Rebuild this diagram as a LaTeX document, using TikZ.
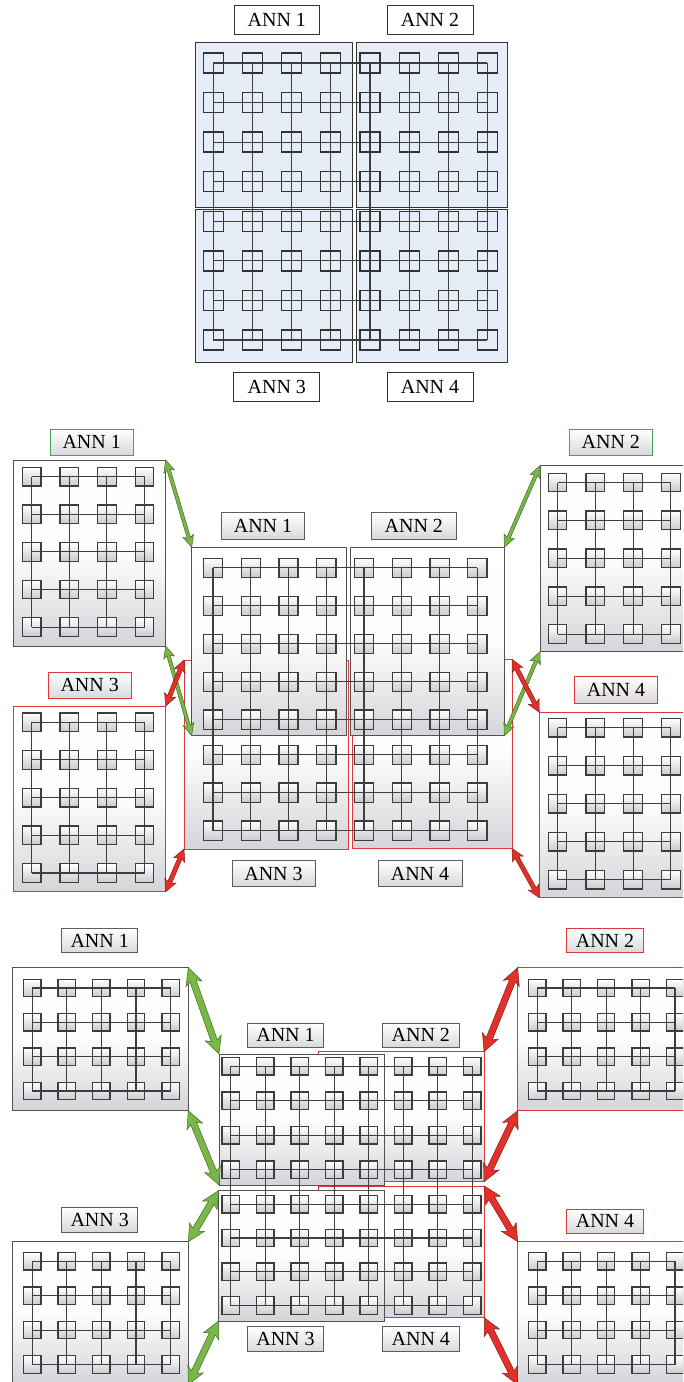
\documentclass[tikz,border=0pt]{standalone}
\usepackage{fontspec}
\setmainfont{Liberation Serif}
\usetikzlibrary{calc}
\definecolor{pbl}{HTML}{E6EDF6}
\definecolor{dk}{HTML}{333333}
\definecolor{gline}{HTML}{3E3E3E}
\definecolor{rbord}{HTML}{E0383A}
\definecolor{gbord}{HTML}{3DAA55}
\definecolor{grn}{HTML}{7AB648}
\definecolor{grnd}{HTML}{3F6E22}
\definecolor{redf}{HTML}{E2302B}
\definecolor{redd}{HTML}{8A1B17}
\definecolor{bbot}{HTML}{D4D5D9}
\definecolor{sbot}{HTML}{CACBCF}
\definecolor{lbot}{HTML}{D8D9DC}
\newcommand\annfont{\fontsize{20pt}{20pt}\selectfont}
% squares: x0 dx lasti y0 dy lastj half style
\newcommand\sqs[8]{\foreach \ii in {0,...,#3}{\foreach \jj in {0,...,#6}{%
  \path[#8] ({#1+\ii*#2-#7},{#4+\jj*#5-#7}) rectangle ++({2*#7},{2*#7});}}}
% grid lines: x0 dx lasti y0 dy lastj
\newcommand\glines[6]{%
  \foreach \jj in {0,...,#6}{\draw[gl] ({#1},{#4+\jj*#5}) -- ({#1+#3*#2},{#4+\jj*#5});}%
  \foreach \ii in {0,...,#3}{\draw[gl] ({#1+\ii*#2},{#4}) -- ({#1+\ii*#2},{#4+#6*#5});}}
\newcommand\hlines[5]{% x0 dx y0 dy lastj
  \foreach \jj in {0,...,#5}{\draw[gl] ({#1},{#3+\jj*#4}) -- ({#1+7*#2},{#3+\jj*#4});}}
% double arrow between node anchors
\newcommand\dblarrow[5]{%
  \pgfmathanglebetweenpoints{\pgfpointanchor{#2}{#3}}{\pgfpointanchor{#4}{#5}}%
  \edef\arrang{\pgfmathresult}%
  \pgfpointdiff{\pgfpointanchor{#2}{#3}}{\pgfpointanchor{#4}{#5}}%
  \pgfgetlastxy{\arrdx}{\arrdy}%
  \pgfmathsetmacro\arrlen{veclen(\arrdx,\arrdy)}%
  \begin{scope}[shift={(#2.#3)}, rotate=\arrang]
    \path[#1] (0,0) -- (\arrH,\arrW) -- (\arrK,\arrS) -- ({\arrlen-\arrK},\arrS)
      -- ({\arrlen-\arrH},\arrW) -- (\arrlen,0) -- ({\arrlen-\arrH},-\arrW)
      -- ({\arrlen-\arrK},-\arrS) -- (\arrK,-\arrS) -- (\arrH,-\arrW) -- cycle;
  \end{scope}}
\begin{document}
\begin{tikzpicture}[x=1pt,y=-1pt,
  p1box/.style={draw=dk, fill=pbl, line width=0.9pt, inner sep=0pt, outer sep=0pt},
  gbox/.style={draw=dk!85, line width=0.9pt, top color=white, bottom color=bbot, middle color=white!94!bbot, inner sep=0pt, outer sep=0pt},
  rbox/.style={gbox, draw=rbord},
  lab1/.style={draw=dk, fill=white, line width=0.8pt, font=\annfont, inner sep=0pt, outer sep=0pt},
  labg/.style={draw=dk!80, line width=0.8pt, top color=white, bottom color=lbot, font=\annfont, inner sep=0pt, outer sep=0pt},
  labgr/.style={labg, draw=gbord},
  labrd/.style={labg, draw=rbord},
  sqplain/.style={draw=dk, line width=1.3pt},
  sqsh/.style={draw=dk!95, line width=1.3pt, top color=white, bottom color=sbot},
  gl/.style={draw=gline, line width=1.15pt},
  garr/.style={fill=grn, draw=grnd, line width=0.5pt, line join=miter},
  rarr/.style={fill=redf, draw=redd, line width=0.5pt, line join=miter}]
\useasboundingbox (0,0) rectangle (683,1382);
\fill[white] (0,0) rectangle (683,1382);
\clip (0,0) rectangle (683,1382);

% ================= Panel 1 =================
\node[p1box, minimum width=157pt, minimum height=165pt, anchor=north west] (p1a) at (195,42) {};
\node[p1box, minimum width=151pt, minimum height=165pt, anchor=north west] (p1b) at (356,42) {};
\node[p1box, minimum width=157pt, minimum height=153pt, anchor=north west] (p1c) at (195,209) {};
\node[p1box, minimum width=151pt, minimum height=153pt, anchor=north west] (p1d) at (356,209) {};
\glines{213.3}{39.17}{7}{63}{39.57}{7}
\sqs{213.3}{39.17}{7}{63}{39.57}{7}{10}{sqplain}
\node[lab1, minimum width=85pt, minimum height=29pt] (p1l1) at (276.8,19.5) {ANN 1};
\node[lab1, minimum width=86pt, minimum height=29pt] (p1l2) at (430,19.5) {ANN 2};
\node[lab1, minimum width=86pt, minimum height=29pt] (p1l3) at (276.8,387.2) {ANN 3};
\node[lab1, minimum width=86pt, minimum height=29pt] (p1l4) at (430,387.2) {ANN 4};

% ================= Panel 2 =================
\node[gbox, minimum width=152.4pt, minimum height=186pt, anchor=north west] (p2L1) at (13.3,460) {};
\node[rbox, minimum width=152.4pt, minimum height=185.7pt, anchor=north west] (p2L3) at (13.3,706) {};
\node[gbox, minimum width=152.4pt, minimum height=186pt, anchor=north west] (p2R2) at (540,465.7) {};
\node[rbox, minimum width=152.4pt, minimum height=185.4pt, anchor=north west] (p2R4) at (539.3,712.3) {};
\sqs{31.7}{37.6}{3}{476.7}{37.6}{4}{9.3}{sqsh}
\glines{31.7}{37.6}{3}{476.7}{37.6}{4}
\sqs{31.7}{37.6}{3}{722.2}{37.7}{4}{9.3}{sqsh}
\glines{31.7}{37.6}{3}{722.2}{37.7}{4}
\sqs{557.5}{37.8}{3}{482.5}{37.9}{4}{9.3}{sqsh}
\glines{557.5}{37.8}{3}{482.5}{37.9}{4}
\sqs{557.5}{37.8}{3}{727.8}{38}{4}{9.3}{sqsh}
\glines{557.5}{37.8}{3}{727.8}{38}{4}
% central
\node[rbox, minimum width=164pt, minimum height=189pt, anchor=north west] (p2C3) at (184,660) {};
\node[rbox, minimum width=160pt, minimum height=189pt, anchor=north west] (p2C4) at (352,659.5) {};
\node[gbox, minimum width=154.3pt, minimum height=188.4pt, anchor=north west] (p2C1) at (191.7,547.3) {};
\node[gbox, minimum width=154.3pt, minimum height=188.4pt, anchor=north west] (p2C2) at (350,547.3) {};
\sqs{213}{37.76}{7}{567.8}{37.98}{4}{9.6}{sqsh}
\sqs{213}{37.76}{7}{754.8}{37.9}{2}{9.6}{sqsh}
\hlines{213}{37.76}{567.8}{37.98}{4}
\hlines{213}{37.76}{754.8}{37.9}{2}
\foreach \ii in {0,...,7}{\draw[gl] ({213+\ii*37.76},567.8) -- ({213+\ii*37.76},830.6);}
% labels
\node[labgr, minimum width=83.3pt, minimum height=25.7pt] (p2l1) at (91.7,442.2) {ANN 1};
\node[labgr, minimum width=83pt, minimum height=25.7pt] (p2l2) at (610.8,442.2) {ANN 2};
\node[labrd, minimum width=82.7pt, minimum height=26pt] (p2l3) at (89.7,685.3) {ANN 3};
\node[labrd, minimum width=83.4pt, minimum height=27.3pt] (p2l4) at (616,689.7) {ANN 4};
\node[labg, minimum width=82.6pt, minimum height=26.6pt] (p2c1) at (263,526) {ANN 1};
\node[labg, minimum width=84.3pt, minimum height=26.6pt] (p2c2) at (413.8,526) {ANN 2};
\node[labg, minimum width=83pt, minimum height=26pt] (p2c3) at (273.5,873.5) {ANN 3};
\node[labg, minimum width=84pt, minimum height=26pt] (p2c4) at (420,873.5) {ANN 4};
% arrows
\def\arrH{12}\def\arrK{10}\def\arrW{5.5}\def\arrS{1.7}
\dblarrow{garr}{p2L1}{north east}{p2C1}{north west}
\dblarrow{garr}{p2L1}{south east}{p2C1}{south west}
\dblarrow{garr}{p2R2}{north west}{p2C2}{north east}
\dblarrow{garr}{p2R2}{south west}{p2C2}{south east}
\def\arrS{2.1}\def\arrW{6}
\dblarrow{rarr}{p2L3}{north east}{p2C3}{north west}
\dblarrow{rarr}{p2L3}{south east}{p2C3}{south west}
\dblarrow{rarr}{p2C4}{north east}{p2R4}{north west}
\dblarrow{rarr}{p2C4}{south east}{p2R4}{south west}

% ================= Panel 3 =================
\node[gbox, minimum width=175.6pt, minimum height=143pt, anchor=north west] (p3L1) at (12.7,967.7) {};
\node[gbox, minimum width=175.6pt, minimum height=143pt, anchor=north west] (p3L3) at (12.7,1241.7) {};
\node[rbox, minimum width=175.6pt, minimum height=143pt, anchor=north west] (p3R2) at (517.7,967.7) {};
\node[rbox, minimum width=175.6pt, minimum height=143pt, anchor=north west] (p3R4) at (517.7,1241.7) {};
\sqs{32.2}{34.6}{4}{988}{34.33}{3}{8.7}{sqsh}
\glines{32.2}{34.6}{4}{988}{34.33}{3}
\sqs{32.2}{34.6}{4}{1261.3}{34.4}{3}{8.7}{sqsh}
\glines{32.2}{34.6}{4}{1261.3}{34.4}{3}
\sqs{537.2}{34.45}{4}{988}{34.33}{3}{8.7}{sqsh}
\glines{537.2}{34.45}{4}{988}{34.33}{3}
\sqs{537.2}{34.45}{4}{1261.3}{34.4}{3}{8.7}{sqsh}
\glines{537.2}{34.45}{4}{1261.3}{34.4}{3}
% central
\node[rbox, minimum width=165.7pt, minimum height=130pt, anchor=north west] (p3C2) at (318.3,1051.7) {};
\node[gbox, minimum width=165pt, minimum height=131pt, anchor=north west] (p3C1) at (219,1054) {};
\node[rbox, minimum width=166pt, minimum height=131.7pt, anchor=north west] (p3C4) at (318.3,1186) {};
\node[gbox, minimum width=165.5pt, minimum height=130.3pt, anchor=north west] (p3C3) at (218.5,1190.7) {};
\sqs{230.8}{34.49}{7}{1066.3}{34.47}{3}{8.7}{sqsh}
\sqs{230.8}{34.49}{7}{1204.2}{33.77}{3}{8.7}{sqsh}
\hlines{230.8}{34.49}{1066.3}{34.47}{3}
\hlines{230.8}{34.49}{1204.2}{33.77}{3}
\foreach \ii in {0,...,7}{\draw[gl] ({230.8+\ii*34.49},1066.3) -- ({230.8+\ii*34.49},1305.5);}
% labels
\node[labg, minimum width=76pt, minimum height=24.4pt] (p3l1) at (99.7,940.5) {ANN 1};
\node[labg, minimum width=76pt, minimum height=24.4pt] (p3l3) at (99.7,1219.7) {ANN 3};
\node[labrd, minimum width=76.6pt, minimum height=24.4pt] (p3l2) at (605,940.5) {ANN 2};
\node[labrd, minimum width=76.6pt, minimum height=24.4pt] (p3l4) at (605,1221.2) {ANN 4};
\node[labg, minimum width=75.6pt, minimum height=24pt] (p3c1) at (285.5,1035.3) {ANN 1};
\node[labg, minimum width=76.3pt, minimum height=24pt] (p3c2) at (420.8,1035.3) {ANN 2};
\node[labg, minimum width=75.6pt, minimum height=24.3pt] (p3c3) at (285.5,1338.8) {ANN 3};
\node[labg, minimum width=76.3pt, minimum height=24.3pt] (p3c4) at (420.8,1338.8) {ANN 4};
% arrows
\def\arrH{17}\def\arrK{14}\def\arrW{8.5}\def\arrS{3.2}
\dblarrow{garr}{p3L1}{north east}{p3C1}{north west}
\dblarrow{garr}{p3L1}{south east}{p3C1}{south west}
\dblarrow{garr}{p3C3}{north west}{p3L3}{north east}
\dblarrow{garr}{p3C3}{south west}{p3L3}{south east}
\dblarrow{rarr}{p3R2}{north west}{p3C2}{north east}
\dblarrow{rarr}{p3R2}{south west}{p3C2}{south east}
\dblarrow{rarr}{p3C4}{north east}{p3R4}{north west}
\dblarrow{rarr}{p3C4}{south east}{p3R4}{south west}
\end{tikzpicture}
\end{document}
